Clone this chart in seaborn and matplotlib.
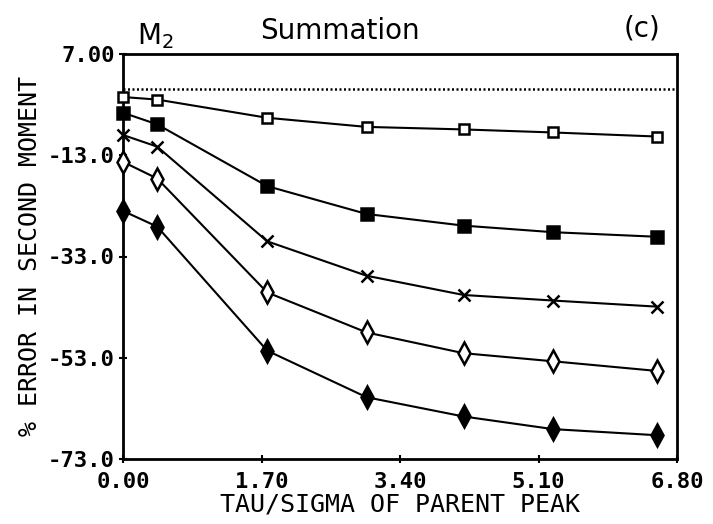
import matplotlib
matplotlib.use("Agg")
import matplotlib.pyplot as plt
import seaborn as sns
import pandas as pd

# Tau/sigma of the parent peak at which each error was computed
tau_sigma = [0.0, 0.42, 1.77, 2.99, 4.18, 5.28, 6.55]

# Percent error in the second moment, one series per peak pair
err_open_square = [-1.5, -2.0, -5.6, -7.4, -7.9, -8.5, -9.3]
err_filled_square = [-4.6, -6.9, -19.1, -24.6, -26.9, -28.2, -29.1]
err_cross = [-9.0, -11.3, -30.0, -36.8, -40.6, -41.7, -42.9]
err_open_diamond = [-14.3, -17.6, -40.1, -48.0, -52.1, -53.7, -55.6]
err_filled_diamond = [-24.0, -27.1, -51.6, -60.8, -64.6, -67.1, -68.3]

x_ticks = [0.0, 1.7, 3.4, 5.1, 6.8]
x_tick_labels = ["0.00", "1.70", "3.40", "5.10", "6.80"]
y_ticks = [7.0, -13.0, -33.0, -53.0, -73.0]
y_tick_labels = ["7.00", "-13.0", "-33.0", "-53.0", "-73.0"]

series = [
    (err_open_square, "s", "white", 7),
    (err_filled_square, "s", "black", 8),
    (err_cross, "x", "black", 9),
    (err_open_diamond, "d", "white", 11),
    (err_filled_diamond, "d", "black", 11),
]

sns.set_theme(style="white")
mono = ["DejaVu Sans Mono"]

fig = plt.figure(figsize=(7.13, 5.24), dpi=100)
ax = fig.add_axes([123 / 713, 1 - 459 / 524, (677 - 123) / 713, (459 - 54) / 524])

# zero-error reference
ax.axhline(0, color="black", lw=1.8, ls=(0, (0.8, 1.0)), zorder=1)

for values, marker, face, size in series:
    df = pd.DataFrame({"tau": tau_sigma, "err": values})
    sns.lineplot(data=df, x="tau", y="err", ax=ax, color="black", lw=1.5,
                 marker=marker, markersize=size, markerfacecolor=face,
                 markeredgecolor="black", markeredgewidth=1.8, zorder=3,
                 clip_on=False)

ax.set_xlim(0, 6.8)
ax.set_ylim(-73, 7)
ax.set_xticks(x_ticks)
ax.set_xticklabels(x_tick_labels, family=mono, fontsize=16, weight="bold")
ax.set_yticks(y_ticks)
ax.set_yticklabels(y_tick_labels, family=mono, fontsize=16, weight="bold")
ax.tick_params(axis="both", direction="inout", length=6, width=1.5,
               color="black", labelcolor="black", bottom=True, left=True)
ax.tick_params(axis="x", pad=6)
ax.tick_params(axis="y", pad=3)

for spine in ax.spines.values():
    spine.set_visible(True)
    spine.set_color("black")
    spine.set_linewidth(2)

ax.set_xlabel("TAU/SIGMA OF PARENT PEAK", family=mono, fontsize=18,
              color="black", labelpad=1)
ax.set_ylabel("% ERROR IN SECOND MOMENT", family=mono, fontsize=18,
              color="black", labelpad=4)

fig.text(155 / 713, 1 - 36 / 524, r"M$_2$", fontsize=20, ha="center",
         va="center", color="black")
fig.text(340 / 713, 1 - 31 / 524, "Summation", fontsize=20, ha="center",
         va="center", color="black")
fig.text(642 / 713, 1 - 28 / 524, "(c)", fontsize=20, ha="center",
         va="center", color="black")

fig.savefig("out.png", dpi=100, facecolor="white")
